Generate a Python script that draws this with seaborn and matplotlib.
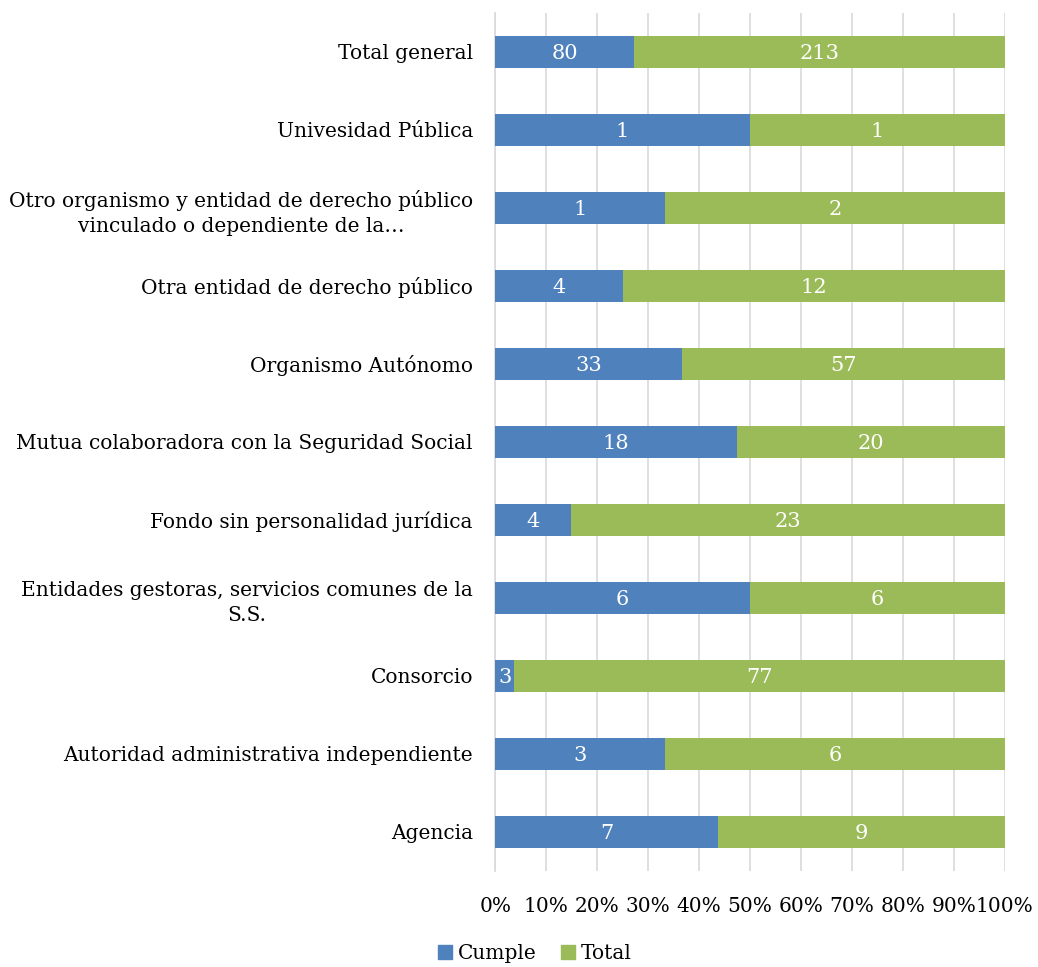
import matplotlib
matplotlib.use("Agg")
import matplotlib.pyplot as plt
import seaborn as sns
import pandas as pd
from matplotlib.patches import Patch
from matplotlib.ticker import PercentFormatter

categories = [
    "Total general",
    "Univesidad Pública",
    "Otro organismo y entidad de derecho público\nvinculado o dependiente de la…",
    "Otra entidad de derecho público",
    "Organismo Autónomo",
    "Mutua colaboradora con la Seguridad Social",
    "Fondo sin personalidad jurídica",
    "Entidades gestoras, servicios comunes de la\nS.S.",
    "Consorcio",
    "Autoridad administrativa independiente",
    "Agencia",
]
cumple = [80, 1, 1, 4, 33, 18, 4, 6, 3, 3, 7]
total = [213, 1, 2, 12, 57, 20, 23, 6, 77, 6, 9]
x_ticks = [0, 10, 20, 30, 40, 50, 60, 70, 80, 90, 100]

BLUE = "#4F81BD"
GREEN = "#9BBB59"

df = pd.DataFrame({"cat": categories, "cumple": cumple, "total": total})
df["sum"] = df["cumple"] + df["total"]
df["p_cumple"] = df["cumple"] / df["sum"] * 100
df["p_all"] = 100.0

sns.set_theme(style="white")
plt.rcParams["font.family"] = ["DejaVu Serif"]
plt.rcParams["text.color"] = "black"

FS = 14.5

fig = plt.figure(figsize=(10.38, 9.67), dpi=100)
ax = fig.add_axes([0.477, 0.0993, 0.491, 0.8873])

sns.barplot(data=df, y="cat", x="p_all", color=GREEN, orient="h",
            width=0.42, saturation=1, ax=ax, order=categories, zorder=2,
            linewidth=0)
sns.barplot(data=df, y="cat", x="p_cumple", color=BLUE, orient="h",
            width=0.42, saturation=1, ax=ax, order=categories, zorder=3,
            linewidth=0)

for i, row in df.iterrows():
    pc = row["p_cumple"]
    ax.text(pc / 2, i, f"{row['cumple']}", ha="center", va="center_baseline",
            color="white", fontsize=FS + 0.5, zorder=4)
    ax.text(pc + (100 - pc) / 2, i, f"{row['total']}", ha="center",
            va="center_baseline", color="white", fontsize=FS + 0.5, zorder=4)

ax.set_xlim(0, 100)
ax.set_ylim(len(categories) - 0.5, -0.5)
ax.set_xticks(x_ticks)
ax.xaxis.set_major_formatter(PercentFormatter(decimals=0))
ax.grid(axis="x", color="#D9D9D9", linewidth=1.2, zorder=0)
ax.set_axisbelow(True)
for s in ["top", "right", "bottom"]:
    ax.spines[s].set_visible(False)
ax.spines["left"].set_color("#D9D9D9")
ax.spines["left"].set_linewidth(1.2)
ax.set_xlabel("")
ax.set_ylabel("")
ax.tick_params(axis="both", length=0, labelsize=FS, colors="#000000")
ax.tick_params(axis="x", pad=19)
ax.tick_params(axis="y", pad=16)
for lbl in ax.get_yticklabels():
    lbl.set_multialignment("center")
    lbl.set_linespacing(1.4)

handles = [Patch(color=BLUE, label="Cumple"), Patch(color=GREEN, label="Total")]
fig.legend(handles=handles, loc="center", bbox_to_anchor=(0.515, 0.014),
           ncol=2, frameon=False, fontsize=FS, handlelength=0.7, handleheight=0.7,
           handletextpad=0.3, columnspacing=1.2, labelcolor="black")

fig.savefig("out.png", dpi=100)
